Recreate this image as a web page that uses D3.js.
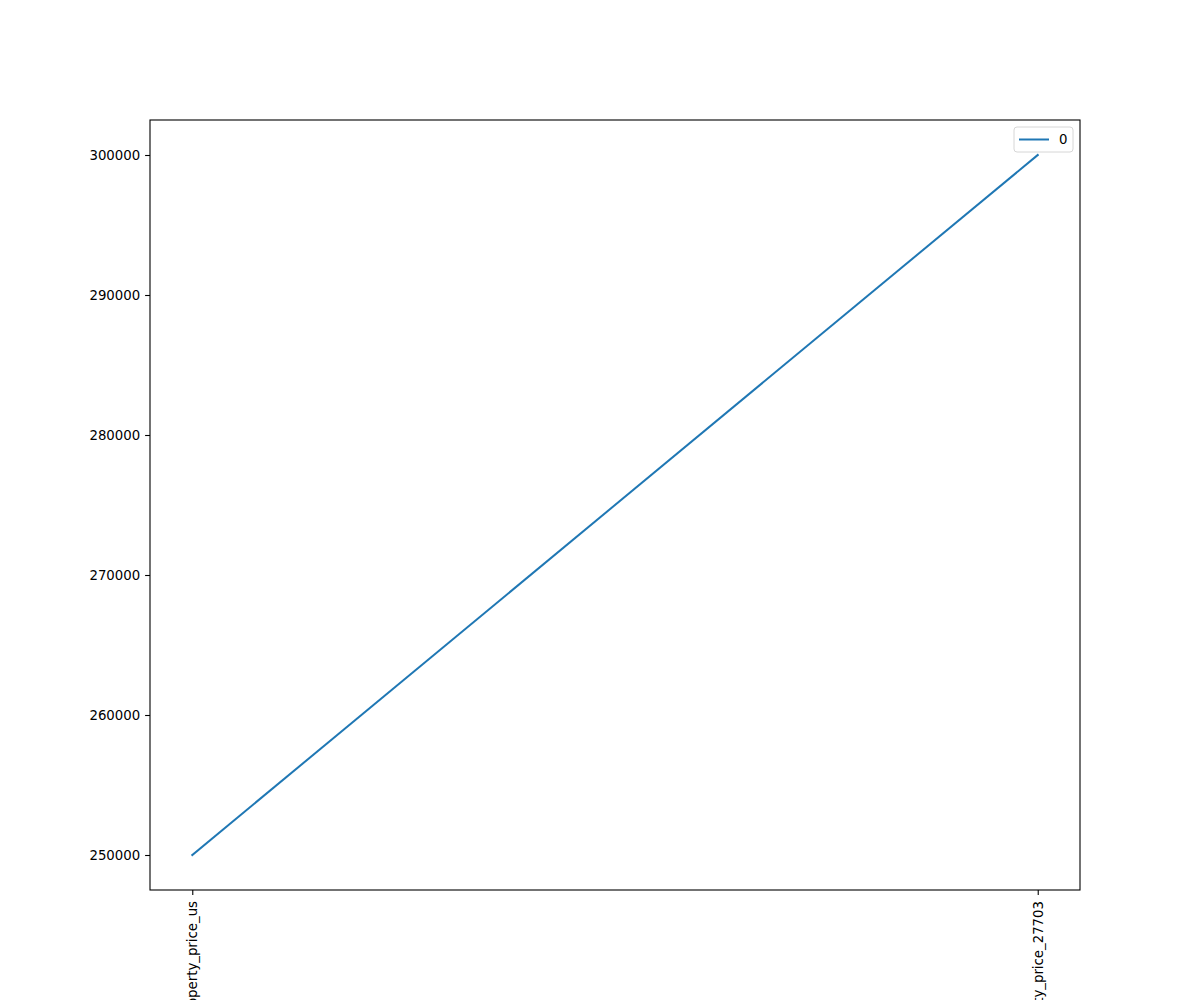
<!DOCTYPE html>
<html>
<head>
<meta charset="utf-8">
<script src="https://cdn.jsdelivr.net/npm/d3@7"></script>
<style>
  body { margin: 0; background: #fff; }
  svg text { font-family: "DejaVu Sans", sans-serif; }
</style>
</head>
<body>
<div class="diagram"></div>
<script>
// data
const categories = ["property_price_us", "property_price_27703"];
const values = [250000, 300000];
const seriesName = "0";
const yTicks = [250000, 260000, 270000, 280000, 290000, 300000];

const margin = {top: 120, right: 120, bottom: 110, left: 150},
    width = 1200 - margin.left - margin.right,
    height = 1000 - margin.top - margin.bottom;

const svg = d3.select(".diagram")
  .append("svg")
    .attr("width", 1200)
    .attr("height", 1000)
  .append("g")
    .attr("transform", `translate(${margin.left}, ${margin.top})`);

// x: points with 5% padding like matplotlib
const pad = (categories.length - 1) * 0.05;
const xIdx = d3.scaleLinear()
  .domain([-pad, categories.length - 1 + pad])
  .range([0, width]);

const yMin = d3.min(values), yMax = d3.max(values);
const yPad = (yMax - yMin) * 0.05;
const y = d3.scaleLinear()
  .domain([yMin - yPad, yMax + yPad])
  .range([height, 0]);

// line
svg.append("path")
  .datum(values)
  .attr("fill", "none")
  .attr("stroke", "#1f77b4")
  .attr("stroke-width", 2)
  .attr("stroke-linecap", "square")
  .attr("d", d3.line()
    .x((d, i) => xIdx(i))
    .y(d => y(d)));

// axes
const yAxis = svg.append("g")
  .call(d3.axisLeft(y).tickValues(yTicks).tickFormat(d3.format("d")).tickSize(4.9).tickPadding(4.9));
yAxis.select(".domain").remove();
yAxis.selectAll("text").style("font-size", "13.3px").attr("fill", "#000");
yAxis.selectAll("line").attr("stroke", "#000").attr("stroke-width", 1.1);

const xAxis = svg.append("g")
  .attr("transform", `translate(0, ${height})`)
  .call(d3.axisBottom(xIdx).tickValues(d3.range(categories.length)).tickFormat(i => categories[i]).tickSize(4.9));
xAxis.select(".domain").remove();
xAxis.selectAll("line").attr("stroke", "#000").attr("stroke-width", 1.1);
xAxis.selectAll("text")
  .style("font-size", "13.3px")
  .attr("fill", "#000")
  .attr("text-anchor", "end")
  .attr("dy", "0.35em")
  .attr("x", -11)
  .attr("y", 0)
  .attr("transform", "rotate(-90)");

// frame
svg.append("rect")
  .attr("width", width)
  .attr("height", height)
  .attr("fill", "none")
  .attr("stroke", "#000")
  .attr("stroke-width", 1.1);

// legend
const legend = svg.append("g")
  .attr("transform", `translate(${width - 66}, 7)`);
legend.append("rect")
  .attr("width", 59)
  .attr("height", 25)
  .attr("rx", 3)
  .attr("fill", "#fff")
  .attr("fill-opacity", 0.8)
  .attr("stroke", "#d6d6d6");
legend.append("line")
  .attr("x1", 5).attr("x2", 35)
  .attr("y1", 12.5).attr("y2", 12.5)
  .attr("stroke", "#1f77b4")
  .attr("stroke-width", 2);
legend.append("text")
  .attr("x", 45)
  .attr("y", 12.5)
  .attr("dy", "0.35em")
  .style("font-size", "13.3px")
  .text(seriesName);
</script>
</body>
</html>
